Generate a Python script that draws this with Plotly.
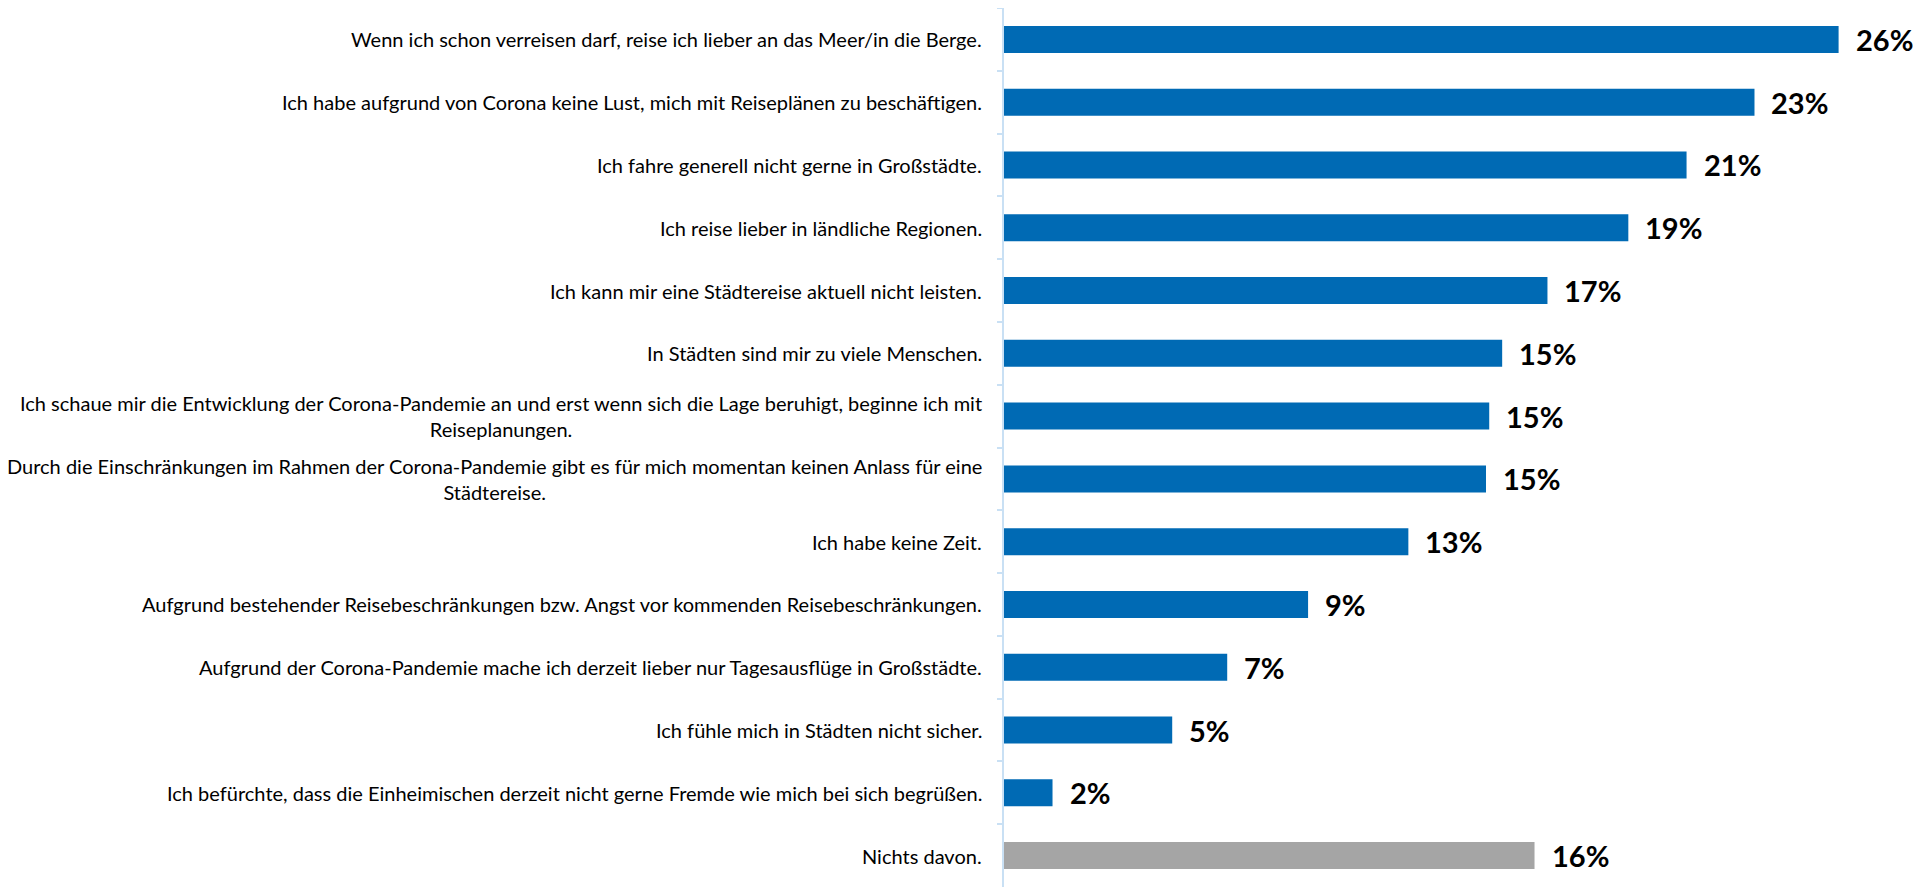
import plotly.graph_objects as go

categories = [
    "Wenn ich schon verreisen darf, reise ich lieber an das Meer/in die Berge.",
    "Ich habe aufgrund von Corona keine Lust, mich mit Reiseplänen zu beschäftigen.",
    "Ich fahre generell nicht gerne in Großstädte.",
    "Ich reise lieber in ländliche Regionen.",
    "Ich kann mir eine Städtereise aktuell nicht leisten.",
    "In Städten sind mir zu viele Menschen.",
    "Ich schaue mir die Entwicklung der Corona-Pandemie an und erst wenn sich die Lage beruhigt, beginne ich mit<br>Reiseplanungen.",
    "Durch die Einschränkungen im Rahmen der Corona-Pandemie gibt es für mich momentan keinen Anlass für eine<br>Städtereise.",
    "Ich habe keine Zeit.",
    "Aufgrund bestehender Reisebeschränkungen bzw. Angst vor kommenden Reisebeschränkungen.",
    "Aufgrund der Corona-Pandemie mache ich derzeit lieber nur Tagesausflüge in Großstädte.",
    "Ich fühle mich in Städten nicht sicher.",
    "Ich befürchte, dass die Einheimischen derzeit nicht gerne Fremde wie mich bei sich begrüßen.",
    "Nichts davon.",
]
values = [25.8, 23.2, 21.1, 19.3, 16.8, 15.4, 15.0, 14.9, 12.5, 9.4, 6.9, 5.2, 1.5, 16.4]
value_labels = ["26%", "23%", "21%", "19%", "17%", "15%", "15%", "15%", "13%", "9%", "7%", "5%", "2%", "16%"]

BLUE = "#006AB4"
GRAY = "#A5A5A5"
colors = [GRAY if c == "Nichts davon." else BLUE for c in categories]

fig = go.Figure(
    go.Bar(
        x=values,
        y=categories,
        orientation="h",
        marker=dict(color=colors, line=dict(width=0)),
        hoverinfo="skip",
    )
)

annotations = []
for cat, val, lab in zip(categories, values, value_labels):
    annotations.append(dict(
        x=val, y=cat, xref="x", yref="y", text=lab, showarrow=False,
        xanchor="left", yanchor="middle", xshift=15,
        font=dict(family="Lato", size=29, color="#000000", weight="bold"),
    ))
    annotations.append(dict(
        x=0, y=cat, xref="x", yref="y", text=cat, showarrow=False,
        xanchor="right", yanchor="middle", xshift=-20, align="center",
        font=dict(family="Lato", size=20, color="#000000"),
    ))

fig.update_layout(
    width=1913,
    height=879,
    margin=dict(l=996, r=8, t=0, b=0),
    plot_bgcolor="white",
    paper_bgcolor="white",
    bargap=0.57,
    showlegend=False,
    annotations=annotations,
    xaxis=dict(
        range=[0, 28.1], visible=False, fixedrange=True,
    ),
    yaxis=dict(
        type="category",
        autorange="reversed",
        showticklabels=False,
        showline=True, linecolor="#C9E0F4", linewidth=2,
        ticks="outside", ticklen=5, tickcolor="#C9E0F4", tickwidth=2,
        tickson="boundaries",
        showgrid=False, zeroline=False,
    ),
)

fig.write_html("out.html")
